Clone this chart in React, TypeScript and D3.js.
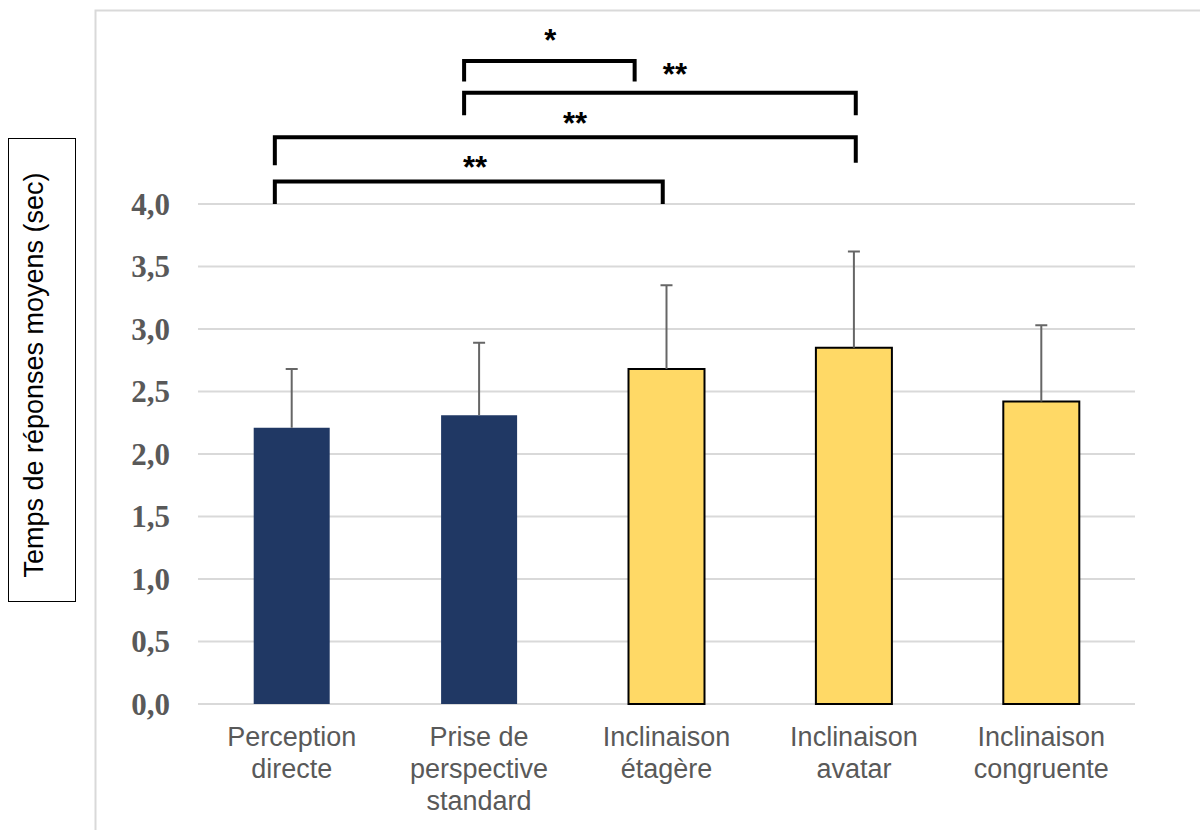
import React from "react";
import * as d3 from "d3";

// Mean response times per condition (seconds) and their standard deviations
const categories = [
  ["Perception", "directe"],
  ["Prise de", "perspective", "standard"],
  ["Inclinaison", "étagère"],
  ["Inclinaison", "avatar"],
  ["Inclinaison", "congruente"],
];
const means = [2.21, 2.31, 2.68, 2.85, 2.42];
const sds = [0.47, 0.58, 0.67, 0.77, 0.61];
const groups = ["base", "base", "tilt", "tilt", "tilt"];
const yTicks = [0, 0.5, 1, 1.5, 2, 2.5, 3, 3.5, 4];

// Significance brackets: x positions on the category slot scale, y in seconds
const brackets = [
  { x1: 1.42, x2: 2.33, top: 5.145, leftEnd: 4.98, rightEnd: 4.98, label: "*", lx: 1.88, ly: 5.224 },
  { x1: 1.42, x2: 3.51, top: 4.89, leftEnd: 4.71, rightEnd: 4.71, label: "**", lx: 2.545, ly: 4.952 },
  { x1: 0.41, x2: 3.51, top: 4.535, leftEnd: 4.31, rightEnd: 4.33, label: "**", lx: 2.012, ly: 4.56 },
  { x1: 0.41, x2: 2.48, top: 4.18, leftEnd: 4.0, rightEnd: 4.0, label: "**", lx: 1.478, ly: 4.208 },
];

const W = 1200;
const H = 830;
const plot = { left: 198, right: 1135, top: 204, bottom: 704 };

const colors: Record<string, string> = { base: "#203864", tilt: "#FFD966" };

export default function App() {
  const idx = categories.map((_, i) => String(i));
  const x = d3.scaleBand().domain(idx).range([plot.left, plot.right]).paddingInner(0).paddingOuter(0);
  const slot = d3.scaleLinear().domain([0, categories.length]).range([plot.left, plot.right]);
  const y = d3.scaleLinear().domain([0, 4]).range([plot.bottom, plot.top]);
  const barW = 76;
  const capW = 12;

  return (
    <svg
      width={W}
      height={H}
      style={{ position: "absolute", left: 0, top: 0, background: "#fff" }}
      fontFamily="Liberation Sans, Arial, sans-serif"
    >
      {/* chart area frame */}
      <rect x={95.5} y={10.5} width={1200} height={900} fill="none" stroke="#d9d9d9" strokeWidth={2} />

      {/* y axis title in a box */}
      <rect x={8.5} y={138.5} width={67} height={463} fill="#fff" stroke="#000" strokeWidth={1} />
      <text
        transform={`translate(42.5,375) rotate(-90)`}
        textAnchor="middle"
        fontSize={27}
        fill="#000"
      >
        Temps de réponses moyens (sec)
      </text>

      {/* gridlines */}
      {yTicks.map((t) => (
        <line key={t} x1={plot.left} x2={plot.right} y1={y(t)} y2={y(t)} stroke="#d9d9d9" strokeWidth={2} />
      ))}

      {/* tick labels */}
      {yTicks.map((t) => (
        <text
          key={"l" + t}
          x={170}
          y={y(t)}
          textAnchor="end"
          dominantBaseline="central"
          fontFamily="Liberation Serif, Times New Roman, serif"
          fontWeight="bold"
          fontSize={31}
          fill="#595959"
        >
          {d3.format(".1f")(t).replace(".", ",")}
        </text>
      ))}

      {/* bars */}
      {means.map((m, i) => {
        const cx = x(String(i))! + x.bandwidth() / 2;
        const tilt = groups[i] === "tilt";
        return (
          <rect
            key={"b" + i}
            x={cx - barW / 2}
            y={y(m)}
            width={barW}
            height={y(0) - y(m)}
            fill={colors[groups[i]]}
            stroke={tilt ? "#000" : "none"}
            strokeWidth={tilt ? 2 : 0}
          />
        );
      })}

      {/* error bars (upper only) */}
      {means.map((m, i) => {
        const cx = x(String(i))! + x.bandwidth() / 2;
        const top = y(m + sds[i]);
        return (
          <g key={"e" + i} stroke="#666666" strokeWidth={2}>
            <line x1={cx} x2={cx} y1={y(m)} y2={top} />
            <line x1={cx - capW / 2} x2={cx + capW / 2} y1={top} y2={top} />
          </g>
        );
      })}

      {/* category labels */}
      {categories.map((lines, i) => {
        const cx = x(String(i))! + x.bandwidth() / 2;
        return (
          <text key={"c" + i} x={cx} textAnchor="middle" fontSize={27} fill="#595959">
            {lines.map((ln, j) => (
              <tspan key={j} x={cx} y={746 + j * 32}>
                {ln}
              </tspan>
            ))}
          </text>
        );
      })}

      {/* significance brackets */}
      {brackets.map((b, i) => {
        const x1 = slot(b.x1);
        const x2 = slot(b.x2);
        const path = `M${x1},${y(b.leftEnd)} L${x1},${y(b.top)} L${x2},${y(b.top)} L${x2},${y(b.rightEnd)}`;
        return (
          <g key={"s" + i}>
            <path d={path} fill="none" stroke="#000" strokeWidth={4} strokeLinejoin="miter" />
            <text
              x={slot(b.lx)}
              y={y(b.ly)}
              textAnchor="middle"
              fontSize={31}
              fontWeight="bold"
              fill="#000"
            >
              {b.label}
            </text>
          </g>
        );
      })}
    </svg>
  );
}
